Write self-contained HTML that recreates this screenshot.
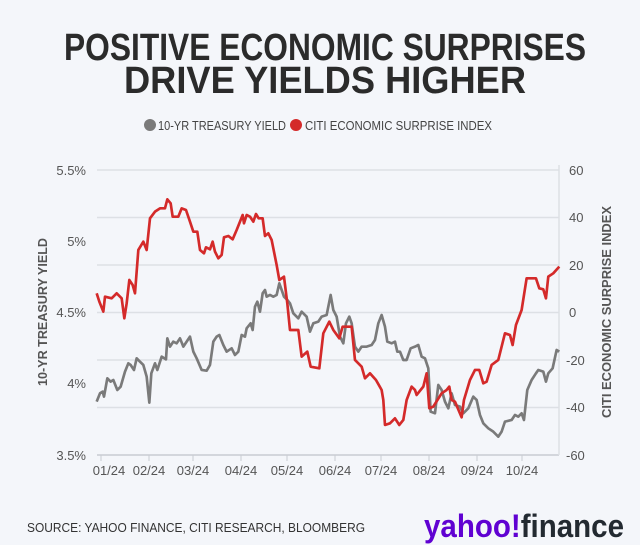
<!DOCTYPE html>
<html><head><meta charset="utf-8"><style>
html,body{margin:0;padding:0;background:#f4f6fa;}
svg{display:block;font-family:"Liberation Sans",sans-serif;}
</style></head><body>
<svg width="640" height="545" viewBox="0 0 640 545">
<rect width="640" height="545" fill="#f4f6fa"/>
<g font-weight="bold" fill="#2b2b2b" font-size="38" text-anchor="middle">
<text x="325" y="60" textLength="522" lengthAdjust="spacingAndGlyphs">POSITIVE ECONOMIC SURPRISES</text>
<text x="325" y="93" textLength="402" lengthAdjust="spacingAndGlyphs">DRIVE YIELDS HIGHER</text>
</g>
<circle cx="150" cy="125" r="6" fill="#7a7a7a"/>
<text x="158" y="130" font-size="13" fill="#444" textLength="128" lengthAdjust="spacingAndGlyphs">10-YR TREASURY YIELD</text>
<circle cx="296" cy="125" r="6" fill="#d42a2a"/>
<text x="305" y="130" font-size="13" fill="#444" textLength="187" lengthAdjust="spacingAndGlyphs">CITI ECONOMIC SURPRISE INDEX</text>
<g stroke="#dde0e5" stroke-width="1.5">
<line x1="97" y1="170" x2="559" y2="170"/><line x1="97" y1="217.5" x2="559" y2="217.5"/>
<line x1="97" y1="265" x2="559" y2="265"/><line x1="97" y1="312.5" x2="559" y2="312.5"/>
<line x1="97" y1="360" x2="559" y2="360"/><line x1="97" y1="407.5" x2="559" y2="407.5"/>
</g>
<line x1="97" y1="455" x2="559" y2="455" stroke="#c8ccd2" stroke-width="1.5"/>
<line x1="559" y1="165" x2="559" y2="455" stroke="#dde0e5" stroke-width="1.5"/>
<g stroke="#c8ccd2" stroke-width="1">
<line x1="101" y1="455" x2="101" y2="461"/><line x1="149" y1="455" x2="149" y2="461"/><line x1="193" y1="455" x2="193" y2="461"/><line x1="241" y1="455" x2="241" y2="461"/><line x1="287" y1="455" x2="287" y2="461"/><line x1="335" y1="455" x2="335" y2="461"/><line x1="381" y1="455" x2="381" y2="461"/><line x1="429" y1="455" x2="429" y2="461"/><line x1="477" y1="455" x2="477" y2="461"/><line x1="522" y1="455" x2="522" y2="461"/>
</g>
<g font-size="13" fill="#555" text-anchor="middle">
<text x="109" y="475">01/24</text><text x="149" y="475">02/24</text><text x="193" y="475">03/24</text><text x="241" y="475">04/24</text><text x="287" y="475">05/24</text><text x="335" y="475">06/24</text><text x="381" y="475">07/24</text><text x="429" y="475">08/24</text><text x="477" y="475">09/24</text><text x="522" y="475">10/24</text>
</g>
<g font-size="13" fill="#555" text-anchor="end">
<text x="86" y="175">5.5%</text><text x="86" y="246">5%</text><text x="86" y="317">4.5%</text><text x="86" y="388">4%</text><text x="86" y="460">3.5%</text>
</g>
<g font-size="13" fill="#555" text-anchor="start">
<text x="569" y="175">60</text><text x="569" y="222">40</text><text x="569" y="270">20</text><text x="569" y="317">0</text><text x="566" y="365">-20</text><text x="566" y="412">-40</text><text x="566" y="460">-60</text>
</g>
<text transform="translate(47,312) rotate(-90)" text-anchor="middle" font-size="13" font-weight="bold" fill="#555" textLength="148" lengthAdjust="spacingAndGlyphs">10-YR TREASURY YIELD</text>
<text transform="translate(611,312) rotate(-90)" text-anchor="middle" font-size="13" font-weight="bold" fill="#555" textLength="212" lengthAdjust="spacingAndGlyphs">CITI ECONOMIC SURPRISE INDEX</text>
<g transform="translate(80,160) scale(0.3333)" fill="none" stroke-width="8" stroke-linejoin="round">
<polyline stroke="#7a7a7a" points="50,725 60,700 68,695 72,710 82,655 92,665 100,660 112,690 122,680 135,635 145,610 152,615 162,630 170,595 180,605 190,615 200,650 208,728 214,640 225,610 232,630 245,590 258,598 262,535 270,560 280,545 290,550 300,535 310,560 320,545 330,530 340,575 350,595 365,630 380,632 390,615 400,545 410,530 418,525 430,555 440,575 455,565 465,585 475,575 485,525 495,530 500,505 512,490 518,510 525,440 532,425 540,455 548,400 555,390 560,410 570,405 580,410 590,405 598,370 605,390 612,410 622,420 630,430 640,460 655,475 665,455 680,470 690,515 700,490 715,485 725,470 740,465 752,405 760,450 770,470 780,530 790,550 798,490 808,470 815,490 825,560 835,575 845,560 860,560 875,555 885,540 895,490 905,465 915,500 922,545 935,550 945,545 952,575 960,575 970,600 980,600 992,565 1005,560 1015,555 1025,590 1035,595 1045,625 1052,755 1065,760 1075,675 1085,690 1095,725 1105,745 1115,700 1125,735 1140,740 1150,760 1165,745 1180,710 1190,720 1200,765 1210,790 1225,805 1240,815 1255,830 1265,815 1275,785 1295,780 1305,765 1315,770 1325,760 1332,780 1342,690 1355,660 1368,640 1375,630 1390,635 1398,665 1405,640 1418,625 1430,570 1438,575"/>
<polyline stroke="#d42a2a" points="50,400 58,425 70,455 75,410 95,415 110,400 125,415 133,475 140,430 148,360 158,375 165,400 175,270 190,245 200,270 210,175 225,155 240,145 255,145 262,118 272,130 278,170 295,170 305,145 318,150 330,185 340,215 352,215 360,270 372,280 378,262 390,268 398,245 405,275 415,295 425,285 432,232 445,228 458,238 470,210 488,165 492,190 500,165 510,170 520,185 528,162 536,175 548,175 555,228 565,220 575,240 590,315 598,360 612,350 622,430 630,510 655,510 665,590 682,575 692,620 718,625 722,590 730,520 748,485 760,510 778,535 788,500 815,500 825,600 845,620 855,655 870,640 888,660 905,690 910,720 915,795 930,790 945,775 958,795 970,780 980,720 995,680 1005,690 1010,705 1030,680 1040,640 1048,745 1060,740 1085,700 1100,690 1108,680 1115,720 1125,725 1145,772 1152,720 1170,660 1185,630 1198,630 1210,670 1220,665 1235,615 1255,600 1275,520 1290,525 1298,555 1308,495 1325,450 1340,355 1368,355 1378,385 1390,388 1398,415 1405,350 1420,340 1438,320"/>
</g>
<text x="27" y="532" font-size="13" fill="#333" textLength="338" lengthAdjust="spacingAndGlyphs">SOURCE: YAHOO FINANCE, CITI RESEARCH, BLOOMBERG</text>
<text x="424" y="537" font-size="32" font-weight="bold" textLength="200" lengthAdjust="spacingAndGlyphs"><tspan fill="#6001d2">yahoo!</tspan><tspan fill="#232a31">finance</tspan></text>
</svg>
</body></html>
